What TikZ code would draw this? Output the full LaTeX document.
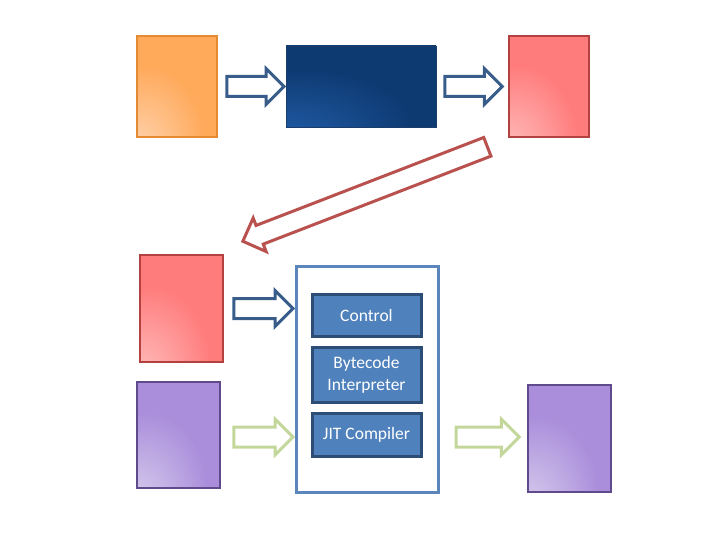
\documentclass[tikz,border=0pt]{standalone}
\usepackage{fontspec}
\setsansfont{Carlito}
\usetikzlibrary{positioning,calc,shapes.arrows}

\definecolor{orangeline}{HTML}{E38A32}
\definecolor{orangefill}{HTML}{FFA95A}
\definecolor{orangelite}{HTML}{FFDDC2}
\definecolor{navyline}{HTML}{1A3D6B}
\definecolor{navyfill}{HTML}{0E3A72}
\definecolor{navylite}{HTML}{2463B2}
\definecolor{redline}{HTML}{B3413F}
\definecolor{redfill}{HTML}{FF7C7C}
\definecolor{redlite}{HTML}{FFCACA}
\definecolor{purpleline}{HTML}{5F4A8B}
\definecolor{purplefill}{HTML}{AA8EDB}
\definecolor{purplelite}{HTML}{E0D8F0}
\definecolor{jvmline}{HTML}{5B86BC}
\definecolor{partfill}{HTML}{4F81BD}
\definecolor{partline}{HTML}{2C4D76}
\definecolor{bluearrow}{HTML}{385D8A}
\definecolor{redarrow}{HTML}{B9524F}
\definecolor{greenarrow}{HTML}{C4D79B}

\colorlet{glowlite}{white}
\colorlet{glowbase}{gray}
\pgfdeclareradialshading[glowlite,glowbase]{glow}{\pgfpoint{-30bp}{-40bp}}{%
  color(0bp)=(glowlite); color(36bp)=(glowbase); color(100bp)=(glowbase)}

\tikzset{
  page/.style={inner sep=0pt, line width=2.5pt, shade, shading=glow},
  filebox/.style={page, minimum width=80pt, minimum height=101pt},
  srcbox/.style={filebox, draw=orangeline,
    /utils/exec={\colorlet{glowlite}{orangelite}\colorlet{glowbase}{orangefill}}},
  clsbox/.style={filebox, draw=redline,
    /utils/exec={\colorlet{glowlite}{redlite}\colorlet{glowbase}{redfill}}},
  libbox/.style={filebox, draw=purpleline, minimum width=83pt, minimum height=106pt,
    /utils/exec={\colorlet{glowlite}{purplelite}\colorlet{glowbase}{purplefill}}},
  compbox/.style={page, draw=navyline, line width=0.8pt,
    minimum width=150pt, minimum height=81pt,
    /utils/exec={\colorlet{glowlite}{navylite}\colorlet{glowbase}{navyfill}}},
  part/.style={draw=partline, fill=partfill, line width=3pt, text=white,
    minimum width=109pt, inner sep=0pt, align=center,
    font=\sffamily\fontsize{17.5}{22}\selectfont},
  fat/.style={single arrow, draw, fill=white, line width=3pt,
    inner xsep=0pt, inner ysep=8.5pt,
    minimum width=33pt, single arrow head extend=8pt, single arrow tip angle=90}
}

% block arrow between two points
\newcommand{\fatarrow}[3]{%
  \path let \p1=(#2), \p2=(#3), \n1={atan2(\y2-\y1,\x2-\x1)},
    \n2={veclen(\x2-\x1,\y2-\y1)} in
    node[fat, #1, rotate=\n1, minimum height=\n2, anchor=tail] at (\p1) {};}

\begin{document}
\begin{tikzpicture}[x=1pt,y=-1pt]
\useasboundingbox (0,0) rectangle (720,540);

\node[srcbox] (src) at (177,86.5) {};
\node[compbox] (javac) at (361,86.5) {};
\node[clsbox] (cls) at (549,86.5) {};

\node[clsbox, minimum width=83pt, minimum height=107pt] (load) at (181.5,308.5) {};
\node[libbox] (lib) at (178.5,435) {};
\node[libbox, minimum height=107pt] (out) at (569.5,438.5) {};

\node[draw=jvmline, line width=3pt, fill=white, minimum width=142pt,
  minimum height=226pt] (jvm) at (367,379) {};
\node[part, minimum height=42pt] (ctrl) at (366.5,315) {Control};
\node[part, minimum height=55pt] (interp) at (366.5,374.5) {Bytecode\\Interpreter};
\node[part, minimum height=43pt] (jit) at (366.5,434.5) {JIT Compiler};

\coordinate (a1) at ($(src.east)+(7,0)$);
\coordinate (b1) at ($(javac.west)+(-3,0)$);
\coordinate (a2) at ($(javac.east)+(7,0)$);
\coordinate (b2) at ($(cls.west)+(-7,0)$);
\coordinate (a3) at ($(cls.south west)+(-19,8)$);
\coordinate (b3) at ($(load.north east)+(20,-13)$);
\coordinate (a4) at ($(load.east)+(8,0)$);
\coordinate (b4) at ($(load.east -| jvm.west)+(-3,0)$);
\coordinate (a5) at ($(lib.east)+(11,2)$);
\coordinate (b5) at ($(lib.east -| jvm.west)+(-3,2)$);
\coordinate (a6) at ($(jvm.east |- out.west)+(15,-1.5)$);
\coordinate (b6) at ($(out.west)+(-9,-1.5)$);

\fatarrow{draw=bluearrow}{a1}{b1}
\fatarrow{draw=bluearrow}{a2}{b2}
\fatarrow{draw=redarrow}{a3}{b3}
\fatarrow{draw=bluearrow}{a4}{b4}
\fatarrow{draw=greenarrow}{a5}{b5}
\fatarrow{draw=greenarrow}{a6}{b6}
\end{tikzpicture}
\end{document}
